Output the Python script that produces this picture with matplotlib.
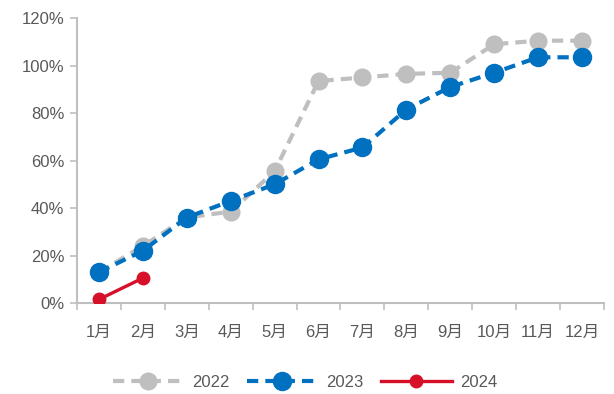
import matplotlib
matplotlib.use("Agg")
import matplotlib.pyplot as plt
import numpy as np

plt.rcParams['font.family'] = ['Liberation Sans', 'Noto Sans CJK SC', 'DejaVu Sans']

months = ["1月", "2月", "3月", "4月", "5月", "6月", "7月", "8月", "9月", "10月", "11月", "12月"]
v2022 = [13, 24, 36, 38.5, 55.5, 93.5, 95, 96.5, 97, 109, 110.5, 110.5]
v2023 = [13, 22, 36, 43, 50, 60.5, 65.5, 81.5, 91, 97, 103.5, 103.5]
v2024 = [1.5, 10.5]

C_GREY = "#BFBFBF"
C_BLUE = "#0070C0"
C_RED = "#D7102A"
C_TEXT = "#595959"
C_AXIS = "#BFBFBF"

fig = plt.figure(figsize=(6.14, 3.94), dpi=100)
ax = fig.add_axes([0.1254, 0.231, 0.8583, 0.723])

x = np.arange(len(months))
ax.plot(x, v2022, color=C_GREY, lw=3, dashes=(2.7, 1.7), marker="o", ms=12,
        label="2022", zorder=2)
ax.plot(x[:len(v2023)], v2023, color=C_BLUE, lw=3, dashes=(2.7, 1.7), marker="o", ms=13,
        label="2023", zorder=3)
ax.plot(x[:len(v2024)], v2024, color=C_RED, lw=2.4, marker="o", ms=9,
        label="2024", zorder=4)

ax.set_xlim(-0.5, len(months) - 0.5)
ax.set_ylim(0, 120)
ax.set_yticks(range(0, 121, 20))
ax.set_yticklabels([f"{v}%" for v in range(0, 121, 20)])
ax.set_xticks(x)
ax.set_xticklabels(months)
ax.set_xticks(np.arange(-0.5, len(months)), minor=True)
ax.tick_params(axis="x", which="major", length=0, pad=16, labelsize=12, labelcolor=C_TEXT)
ax.tick_params(axis="x", which="minor", length=5, color=C_AXIS, width=1.2)
ax.tick_params(axis="y", length=5, color=C_AXIS, width=1.2, labelsize=12, labelcolor=C_TEXT, pad=4)

for s in ["top", "right"]:
    ax.spines[s].set_visible(False)
for s in ["left", "bottom"]:
    ax.spines[s].set_color(C_AXIS)
    ax.spines[s].set_linewidth(1.5)

leg = fig.legend(loc="center", bbox_to_anchor=(0.497, 0.03), ncol=3, frameon=False,
                 fontsize=12, handlelength=4.3, columnspacing=1.0, handletextpad=0.5)
for t in leg.get_texts():
    t.set_color(C_TEXT)

fig.savefig("out.png", dpi=100)
